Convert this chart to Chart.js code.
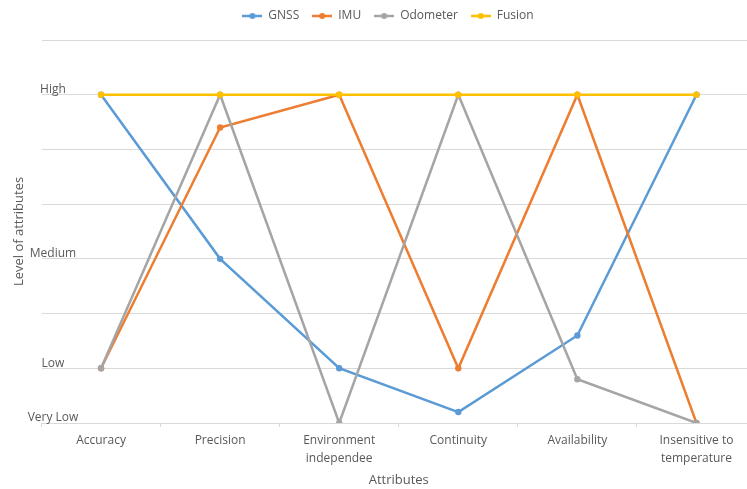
<!DOCTYPE html>
<html>
<head>
<meta charset="utf-8">
<script src="https://cdn.jsdelivr.net/npm/chart.js@4.4.1/dist/chart.umd.min.js"></script>
<style>
  html, body { margin: 0; padding: 0; background: #fff; overflow: hidden; }
  #wrap { width: 756px; height: 489px; position: relative; }
</style>
</head>
<body>
<div id="wrap"><canvas id="chart"></canvas></div>
<script>
// --- data (0 = Very Low ... 6 = High, 7 = top line) ---
const attributes = ['Accuracy', 'Precision', ['Environment', 'independee'], 'Continuity', 'Availability', ['Insensitive to', 'temperature']];
const seriesNames = ['GNSS', 'IMU', 'Odometer', 'Fusion'];
const gnss = [6, 3, 1, 0.2, 1.6, 6];
const imu = [1, 5.4, 6, 1, 6, 0];
const odometer = [1, 6, 0, 6, 0.8, 0];
const fusion = [6, 6, 6, 6, 6, 6];
const levelValues = [0, 1, 3, 6];
const levelNames = ['Very Low', 'Low', 'Medium', 'High'];

const colors = ['#5B9BD5', '#ED7D31', '#A5A5A5', '#FFC000'];
const TXT = '#595959';
const GRID = '#D9D9D9';
const FONT = '"Open Sans", "DejaVu Sans", sans-serif';

// legend marker: short line with a dot, like Excel
function marker(col) {
  const c = document.createElement('canvas');
  c.width = 20; c.height = 8;
  const g = c.getContext('2d');
  g.strokeStyle = col; g.lineWidth = 2.5;
  g.beginPath(); g.moveTo(0, 4); g.lineTo(20, 4); g.stroke();
  g.fillStyle = col;
  g.beginPath(); g.arc(10, 4, 3, 0, Math.PI * 2); g.fill();
  return c;
}
const markers = colors.map(marker);

// level names sit just above their grid lines
const levelLabels = {
  id: 'levelLabels',
  afterDraw(chart) {
    const { ctx, scales: { y } } = chart;
    ctx.save();
    ctx.font = '12px ' + FONT;
    ctx.fillStyle = TXT;
    ctx.textAlign = 'center';
    ctx.textBaseline = 'middle';
    levelValues.forEach((v, i) => ctx.fillText(levelNames[i], 53, y.getPixelForValue(v) - 5));
    ctx.restore();
  }
};

// extra room under the legend
const legendGap = {
  id: 'legendGap',
  beforeInit(chart) {
    const fit = chart.legend.fit;
    chart.legend.fit = function () { fit.bind(chart.legend)(); this.height += 8; };
  }
};

const values = [gnss, imu, odometer, fusion];
const datasets = seriesNames.map((name, i) => ({
  label: name,
  data: values[i],
  borderColor: colors[i],
  backgroundColor: colors[i],
  pointBackgroundColor: colors[i],
  pointBorderColor: colors[i],
  borderWidth: 2.5,
  pointRadius: 3.2,
  pointBorderWidth: 0,
  tension: 0,
  order: seriesNames.length - i
}));

new Chart(document.getElementById('chart'), {
  type: 'line',
  data: { labels: attributes, datasets },
  plugins: [levelLabels, legendGap],
  options: {
    responsive: true,
    maintainAspectRatio: false,
    animation: false,
    layout: { autoPadding: false, padding: { top: -3, left: 20, right: 0, bottom: 1 } },
    plugins: {
      tooltip: { enabled: false },
      legend: {
        position: 'top',
        labels: {
          usePointStyle: true,
          pointStyleWidth: 20,
          padding: 13,
          color: TXT,
          font: { family: FONT, size: 12 },
          generateLabels: chart => chart.data.datasets.map((ds, i) => ({
            text: ds.label,
            pointStyle: markers[i],
            fillStyle: ds.borderColor,
            strokeStyle: ds.borderColor,
            lineWidth: 0,
            fontColor: TXT,
            hidden: !chart.isDatasetVisible(i),
            datasetIndex: i
          }))
        }
      }
    },
    scales: {
      x: {
        offset: true,
        grid: { display: true, offset: true, drawOnChartArea: false, drawTicks: true, tickLength: 4, color: GRID },
        border: { display: true, color: GRID, width: 1 },
        ticks: { color: TXT, padding: 5, font: { family: FONT, size: 12, lineHeight: 1.45 }, maxRotation: 0, autoSkip: false },
        title: { display: true, text: 'Attributes', color: TXT, font: { family: FONT, size: 13 }, padding: { top: 0.6, bottom: 0 } }
      },
      y: {
        min: 0,
        max: 7,
        ticks: { display: false, stepSize: 1 },
        grid: { color: GRID, lineWidth: 1, drawTicks: false },
        border: { display: false },
        title: { display: true, text: 'Level of attributes', color: TXT, font: { family: FONT, size: 13 }, padding: { top: -8.8, bottom: 14.7 } }
      }
    }
  }
});
</script>
</body>
</html>
